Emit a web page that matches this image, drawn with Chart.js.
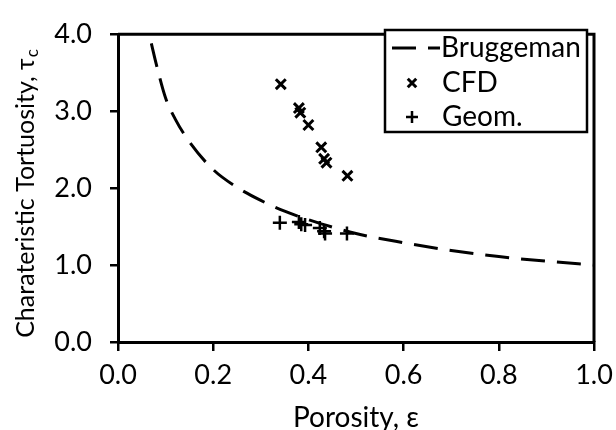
<!DOCTYPE html>
<html>
<head>
<meta charset="utf-8">
<script src="https://cdn.jsdelivr.net/npm/chart.js@4"></script>
<style>
  html, body { margin: 0; padding: 0; background: #fff; }
  #wrap { width: 616px; height: 430px; }
</style>
</head>
<body>
<div id="wrap"><canvas id="tortChart" width="616" height="430"></canvas></div>
<script>
// values
var brugEps = [0.07, 0.08, 0.10, 0.12, 0.15, 0.20, 0.25, 0.30, 0.35, 0.40, 0.50, 0.60, 0.70, 0.80, 0.90, 1.00];
var brugTau = [3.88, 3.62, 3.17, 2.90, 2.60, 2.24, 2.01, 1.84, 1.70, 1.59, 1.41, 1.29, 1.19, 1.11, 1.05, 1.00];

var cfdEps = [0.342, 0.380, 0.383, 0.400, 0.427, 0.433, 0.438, 0.482];
var cfdTau = [3.35, 3.04, 2.98, 2.82, 2.53, 2.38, 2.33, 2.16];

var geomEps = [0.340, 0.380, 0.385, 0.393, 0.424, 0.433, 0.435, 0.481];
var geomTau = [1.55, 1.56, 1.53, 1.52, 1.48, 1.44, 1.41, 1.41];

var xTicks = [0.0, 0.2, 0.4, 0.6, 0.8, 1.0];
var yTicks = [0.0, 1.0, 2.0, 3.0, 4.0];

var FONT = 'Lato, "Liberation Sans", sans-serif';

function pts(xs, ys) {
    return xs.map(function (x, i) { return { x: x, y: ys[i] }; });
}

// frame on top/right + legend box + y title with subscript
var extras = {
    id: 'extras',
    afterDraw: function (chart) {
        var c = chart.ctx, a = chart.chartArea;
        c.save();
        c.strokeStyle = '#000';
        c.lineWidth = 3;
        c.beginPath();
        c.moveTo(a.left, a.top);
        c.lineTo(a.right, a.top);
        c.lineTo(a.right, a.bottom);
        c.stroke();

        // legend box
        var lx = 385, ly = 30, lw = 202, lh = 102;
        c.fillStyle = '#fff';
        c.fillRect(lx, ly, lw, lh);
        c.lineWidth = 2.5;
        c.strokeRect(lx, ly, lw, lh);

        var ds = chart.data.datasets;
        var rows = [48, 83, 117];
        c.font = '28px ' + FONT;
        c.textBaseline = 'middle';
        c.fillStyle = '#000';
        // line sample
        c.lineWidth = 3;
        c.setLineDash(ds[0].borderDash);
        c.beginPath();
        c.moveTo(392, rows[0]);
        c.lineTo(440, rows[0]);
        c.stroke();
        c.setLineDash([]);
        c.fillText(ds[0].label, 441, rows[0]);
        for (var i = 1; i < 3; i++) {
            c.lineWidth = ds[i].borderWidth;
            Chart.helpers.drawPoint(c, {
                pointStyle: ds[i].pointStyle,
                radius: ds[i].pointRadius - 1,
                borderWidth: ds[i].borderWidth,
                rotation: 0
            }, 412, rows[i]);
            c.fillText(ds[i].label, 442, rows[i]);
        }

        // y axis title
        var main = 'Charateristic Tortuosity, \u03c4';
        c.font = '25px ' + FONT;
        var w1 = c.measureText(main).width;
        c.font = '17px ' + FONT;
        var w2 = c.measureText('c').width;
        c.translate(26, 194);
        c.rotate(-Math.PI / 2);
        c.textAlign = 'left';
        c.textBaseline = 'middle';
        var sx = -(w1 + w2) / 2;
        c.font = '25px ' + FONT;
        c.fillText(main, sx, 0);
        c.font = '17px ' + FONT;
        c.fillText('c', sx + w1 + 1, 7);
        c.restore();
    }
};

var ctx = document.getElementById('tortChart').getContext('2d');
var tortChart = new Chart(ctx, {
    type: 'scatter',
    data: {
        datasets: [{
            label: 'Bruggeman',
            type: 'line',
            data: pts(brugEps, brugTau),
            borderColor: '#000',
            borderWidth: 3,
            borderDash: [24, 12],
            pointRadius: 0,
            cubicInterpolationMode: 'monotone',
            fill: false
        }, {
            label: 'CFD',
            data: pts(cfdEps, cfdTau),
            pointStyle: 'crossRot',
            pointRadius: 7,
            borderColor: '#000',
            backgroundColor: '#000',
            borderWidth: 3
        }, {
            label: 'Geom.',
            data: pts(geomEps, geomTau),
            pointStyle: 'cross',
            pointRadius: 7,
            borderColor: '#000',
            backgroundColor: '#000',
            borderWidth: 2.5
        }]
    },
    options: {
        responsive: false,
        animation: false,
        layout: { padding: { top: 20, right: 0, left: 0, bottom: 0 } },
        plugins: {
            legend: { display: false },
            tooltip: { enabled: false }
        },
        scales: {
            x: {
                type: 'linear',
                min: 0,
                max: 1,
                afterBuildTicks: function (s) { s.ticks = xTicks.map(function (v) { return { value: v }; }); },
                afterFit: function (s) { s.height = 88; s.paddingRight = 22; },
                ticks: {
                    color: '#000',
                    font: { family: FONT, size: 27 },
                    padding: 8,
                    maxRotation: 0,
                    callback: function (v) { return v.toFixed(1); }
                },
                grid: { drawOnChartArea: false, tickLength: 9, color: '#000', lineWidth: 2.5 },
                border: { color: '#000', width: 3 },
                title: {
                    display: true,
                    text: 'Porosity, \u03b5',
                    color: '#000',
                    font: { family: FONT, size: 28 },
                    padding: { top: 4, bottom: -5 }
                }
            },
            y: {
                type: 'linear',
                min: 0,
                max: 4,
                afterBuildTicks: function (s) { s.ticks = yTicks.map(function (v) { return { value: v }; }); },
                afterFit: function (s) { s.width = 118; },
                ticks: {
                    color: '#000',
                    font: { family: FONT, size: 27 },
                    padding: 18,
                    callback: function (v) { return v.toFixed(1); }
                },
                grid: { drawOnChartArea: false, tickLength: 8, color: '#000', lineWidth: 2.5 },
                border: { color: '#000', width: 3 }
            }
        }
    },
    plugins: [extras]
});
</script>
</body>
</html>
